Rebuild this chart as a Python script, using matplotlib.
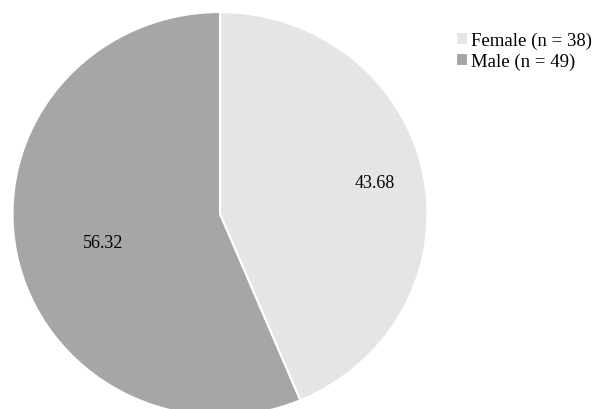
import matplotlib
matplotlib.use("Agg")
import matplotlib.pyplot as plt

# data
groups = ["Female (n = 38)", "Male (n = 49)"]
percents = [43.68, 56.32]
colors = ["#e6e5e3", "#a6a6a6"]
pct_labels = ["43.68", "56.32"]

plt.rcParams['font.family'] = ['Liberation Serif', 'DejaVu Serif']

fig = plt.figure(figsize=(5.99, 4.10), dpi=100)
# pie is slightly squashed vertically and cut at the bottom in the reference
ax = fig.add_axes([12.5 / 599, -7 / 410, 415 / 599, 404 / 410])

wedges, _ = ax.pie(percents, colors=colors, startangle=90, counterclock=False,
                   wedgeprops=dict(edgecolor="white", linewidth=1.5))
ax.set_aspect('auto')
ax.set_xlim(-1, 1)
ax.set_ylim(-1, 1)
ax.axis('off')

# value labels inside the slices
ax.text(0.747, 0.158, pct_labels[0], ha='center', va='center', fontsize=13)
ax.text(-0.564, -0.139, pct_labels[1], ha='center', va='center', fontsize=13)

fig.legend(wedges, groups, loc='upper left', bbox_to_anchor=(456 / 599, 1 - 33 / 410),
           frameon=False, fontsize=13.5, handlelength=0.65, handleheight=0.65,
           handletextpad=0.15, labelspacing=0.2, borderpad=0, borderaxespad=0)

fig.savefig("out.png", dpi=100)
